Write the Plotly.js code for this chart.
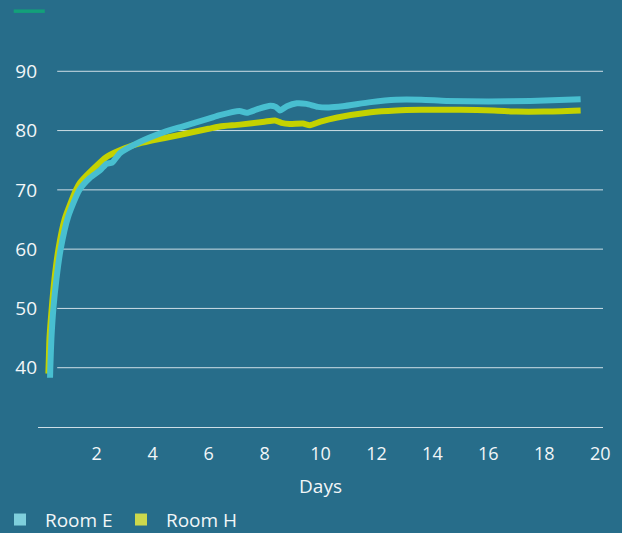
<!DOCTYPE html>
<html>
<head>
<meta charset="utf-8">
<script src="https://cdn.plot.ly/plotly-3.0.1.min.js"></script>
<style>html,body{margin:0;padding:0;background:#276d8a;}#chart{width:622px;height:533px;}</style>
</head>
<body>
<div id="chart"></div>
<script>
const roomEDays = [0.33,0.34,0.38,0.45,0.56,0.71,0.98,1.38,1.75,2.12,2.35,2.55,2.83,3.5,4.38,5.0,6.0,6.4,7.1,7.36,7.8,8.2,8.4,8.55,8.8,9.15,9.5,9.9,10.3,10.8,11.8,12.7,13.6,14.5,16.0,17.5,19.3];
const roomEValues = [38.3,40,45,50,55,60,65.5,70,72,73.3,74.4,74.6,76.2,78.0,79.7,80.6,82.0,82.6,83.3,83.0,83.7,84.2,84.0,83.4,84.1,84.6,84.5,84.0,83.9,84.1,84.8,85.2,85.2,85.0,84.9,85.0,85.3];
const roomHDays = [0.27,0.29,0.31,0.39,0.49,0.63,0.85,1.26,1.4,1.8,2.36,3.0,3.5,4.38,5.0,6.0,6.4,7.12,8.0,8.37,8.6,8.9,9.37,9.62,10.0,10.6,11.8,12.7,13.6,15,16.2,17.0,18,19.3];
const roomHValues = [39,42,45,50,55,60,65,70,71.2,73.2,75.6,77.0,77.8,78.7,79.3,80.3,80.7,81.0,81.5,81.7,81.3,81.1,81.2,80.9,81.5,82.2,83.1,83.4,83.5,83.5,83.4,83.2,83.2,83.4];
const xTicks = [2,4,6,8,10,12,14,16,18,20];
const yTicks = [40,50,60,70,80,90];
const seriesNames = ["Room E","Room H"];
const lineColors = ["#48bfd0","#c4d200"];
const legendColors = ["#7fcfdc","#ccd84c"];

const bg = "#276d8a";
const gridColor = "rgba(235,242,246,0.85)";
const font = "Open Sans, Noto Sans, sans-serif";

const traces = [
  {x: roomHDays, y: roomHValues, mode: "lines", line: {color: lineColors[1], width: 6, shape: "spline", smoothing: 0.6}, showlegend: false, hoverinfo: "skip"},
  {x: roomEDays, y: roomEValues, mode: "lines", line: {color: lineColors[0], width: 6, shape: "spline", smoothing: 0.6}, showlegend: false, hoverinfo: "skip"},
  {x: [null], y: [null], mode: "markers", name: "\u00a0" + seriesNames[0], marker: {symbol: "square", size: 12, color: legendColors[0]}},
  {x: [null], y: [null], mode: "markers", name: "\u00a0" + seriesNames[1], marker: {symbol: "square", size: 12, color: legendColors[1]}}
];

const shapes = yTicks.map(v => ({type: "line", xref: "paper", yref: "y", x0: 0.034, x1: 1, y0: v, y1: v, line: {color: gridColor, width: 1}, layer: "below"}));
shapes.push({type: "line", xref: "paper", yref: "paper", x0: -0.043, x1: 0.012, y0: 1.002, y1: 1.002, line: {color: "#13a07a", width: 3.5}});

const layout = {
  width: 622, height: 533,
  paper_bgcolor: bg, plot_bgcolor: bg,
  margin: {l: 38, r: 19, t: 12, b: 106},
  font: {family: font, color: "#ffffff", size: 19},
  xaxis: {
    range: [-0.1, 20.1], tickvals: xTicks, ticktext: xTicks.map(String), automargin: false,
    showgrid: false, zeroline: false, showline: true, linecolor: gridColor, linewidth: 1,
    ticks: "outside", ticklen: 10, tickcolor: "rgba(0,0,0,0)", tickfont: {size: 18, color: "#f2f6f8"},
    title: {text: "Days", font: {size: 19, color: "#f2f6f8"}, standoff: 16}
  },
  yaxis: {
    range: [30, 100], tickvals: yTicks, ticktext: yTicks.map(String), automargin: false,
    showgrid: false, zeroline: false, showline: false, ticks: "",
    tickfont: {size: 19, color: "#f2f6f8"}
  },
  shapes: shapes,
  showlegend: true,
  legend: {orientation: "h", xref: "container", yref: "container", x: 0, xanchor: "left", y: 0.025, yanchor: "middle", font: {size: 19, color: "#f2f6f8"}, bgcolor: "rgba(0,0,0,0)", itemwidth: 30, entrywidth: 76, entrywidthmode: "pixels"}
};

Plotly.newPlot("chart", traces, layout, {staticPlot: true, displayModeBar: false});
</script>
</body>
</html>
